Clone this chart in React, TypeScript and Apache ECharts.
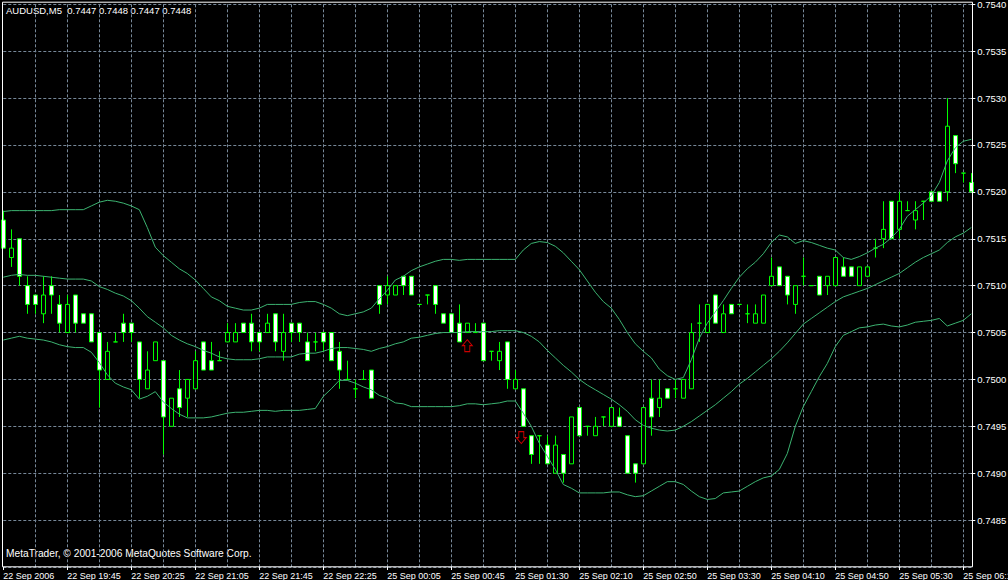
import React, { useEffect, useRef } from 'react';
import * as echarts from 'echarts';

// AUDUSD M5 bars: [open, high, low, close]
const candles: number[][] = [
  [0.7517, 0.7518, 0.7514, 0.7514], [0.7513, 0.7516, 0.7512, 0.7514], [0.7515, 0.7515, 0.7510, 0.7511], [0.7510, 0.7511, 0.7507, 0.7508],
  [0.7509, 0.7509, 0.7507, 0.7508], [0.7507, 0.7511, 0.7506, 0.7509], [0.7510, 0.7511, 0.7507, 0.7509], [0.7508, 0.7509, 0.7505, 0.7506],
  [0.7505, 0.7509, 0.7505, 0.7508], [0.7509, 0.7509, 0.7505, 0.7506], [0.7507, 0.7507, 0.7506, 0.7506], [0.7507, 0.7507, 0.7504, 0.7504],
  [0.7505, 0.7505, 0.7497, 0.7501], [0.7500, 0.7504, 0.7500, 0.7503], [0.7504, 0.7505, 0.7504, 0.7504], [0.7506, 0.7507, 0.7504, 0.7505],
  [0.7506, 0.7506, 0.7504, 0.7505], [0.7504, 0.7504, 0.7498, 0.7500], [0.7499, 0.7503, 0.7499, 0.7501], [0.7502, 0.7504, 0.7502, 0.7504],
  [0.7502, 0.7502, 0.7492, 0.7496], [0.7495, 0.7498, 0.7495, 0.7498], [0.7499, 0.7501, 0.7496, 0.7497], [0.7498, 0.7500, 0.7496, 0.7500],
  [0.7499, 0.7503, 0.7499, 0.7502], [0.7504, 0.7504, 0.7501, 0.7501], [0.7502, 0.7504, 0.7501, 0.7501], [0.7502, 0.7503, 0.7502, 0.7502],
  [0.7504, 0.7506, 0.7504, 0.7505], [0.7504, 0.7506, 0.7504, 0.7505], [0.7506, 0.7506, 0.7505, 0.7505], [0.7506, 0.7507, 0.7503, 0.7504],
  [0.7505, 0.7505, 0.7503, 0.7504], [0.7505, 0.7507, 0.7505, 0.7506], [0.7507, 0.7507, 0.7503, 0.7504], [0.7503, 0.7507, 0.7502, 0.7505],
  [0.7506, 0.7506, 0.7504, 0.7505], [0.7506, 0.7506, 0.7504, 0.7505], [0.7504, 0.7505, 0.7502, 0.7502], [0.7504, 0.7505, 0.7503, 0.7504],
  [0.7505, 0.7505, 0.7503, 0.7504], [0.7505, 0.7505, 0.7502, 0.7502], [0.7503, 0.7504, 0.7499, 0.7501], [0.7500, 0.7502, 0.7500, 0.7500],
  [0.7499, 0.7500, 0.7498, 0.7499], [0.7500, 0.7501, 0.7500, 0.7500], [0.7501, 0.7501, 0.7498, 0.7498], [0.7510, 0.7510, 0.7507, 0.7508],
  [0.7509, 0.7511, 0.7508, 0.7510], [0.7509, 0.7510, 0.7509, 0.7510], [0.7511, 0.7511, 0.7509, 0.7510], [0.7511, 0.7511, 0.7509, 0.7509],
  [0.7508, 0.7508, 0.7508, 0.7508], [0.7509, 0.7509, 0.7508, 0.7509], [0.7510, 0.7510, 0.7507, 0.7508], [0.7507, 0.7507, 0.7506, 0.7506],
  [0.7507, 0.7507, 0.7505, 0.7505], [0.7506, 0.7508, 0.7504, 0.7504], [0.7505, 0.7506, 0.7505, 0.7506], [0.7505, 0.7506, 0.7505, 0.7505],
  [0.7506, 0.7506, 0.7502, 0.7502], [0.7503, 0.7503, 0.7502, 0.7503], [0.7502, 0.7504, 0.7501, 0.7503], [0.7504, 0.7504, 0.7499, 0.7500],
  [0.7499, 0.7501, 0.7499, 0.7500], [0.7499, 0.7499, 0.7495, 0.7495], [0.7494, 0.7494, 0.7491, 0.7492], [0.7494, 0.7494, 0.7491, 0.7494],
  [0.7493, 0.7494, 0.7491, 0.7491], [0.7490, 0.7494, 0.7490, 0.7493], [0.7492, 0.7492, 0.7489, 0.7490], [0.7491, 0.7496, 0.7491, 0.7496],
  [0.7497, 0.7497, 0.7494, 0.7494], [0.7495, 0.7495, 0.7494, 0.7495], [0.7494, 0.7496, 0.7494, 0.7495], [0.7496, 0.7496, 0.7495, 0.7496],
  [0.7495, 0.7497, 0.7495, 0.7497], [0.7496, 0.7497, 0.7495, 0.7495], [0.7494, 0.7494, 0.7490, 0.7490], [0.7491, 0.7491, 0.7489, 0.7490],
  [0.7491, 0.7497, 0.7491, 0.7497], [0.7498, 0.7500, 0.7494, 0.7496], [0.7497, 0.7500, 0.7496, 0.7498], [0.7499, 0.7499, 0.7498, 0.7498],
  [0.7499, 0.7500, 0.7498, 0.7499], [0.7498, 0.7500, 0.7498, 0.7500], [0.7499, 0.7506, 0.7499, 0.7505], [0.7506, 0.7508, 0.7504, 0.7506],
  [0.7505, 0.7508, 0.7505, 0.7508], [0.7509, 0.7509, 0.7506, 0.7506], [0.7505, 0.7508, 0.7505, 0.7507], [0.7508, 0.7508, 0.7507, 0.7507],
  [0.7508, 0.7508, 0.7508, 0.7508], [0.7507, 0.7508, 0.7506, 0.7507], [0.7506, 0.7508, 0.7506, 0.7507], [0.7506, 0.7509, 0.7506, 0.7509],
  [0.7510, 0.7513, 0.7510, 0.7511], [0.7512, 0.7512, 0.7510, 0.7510], [0.7511, 0.7511, 0.7508, 0.7509], [0.7508, 0.7510, 0.7507, 0.7510],
  [0.7511, 0.7513, 0.7510, 0.7511], [0.7510, 0.7510, 0.7510, 0.7510], [0.7511, 0.7511, 0.7509, 0.7509], [0.7510, 0.7511, 0.7509, 0.7511],
  [0.7510, 0.7513, 0.7510, 0.7513], [0.7512, 0.7513, 0.7511, 0.7511], [0.7512, 0.7512, 0.7511, 0.7511], [0.7510, 0.7512, 0.7510, 0.7512],
  [0.7511, 0.7512, 0.7511, 0.7512], [0.7514, 0.7515, 0.7513, 0.7514], [0.7515, 0.7519, 0.7514, 0.7516], [0.7519, 0.7519, 0.7515, 0.7515],
  [0.7516, 0.7520, 0.7515, 0.7519], [0.7518, 0.7519, 0.7518, 0.7518], [0.7517, 0.7519, 0.7516, 0.7518], [0.7519, 0.7519, 0.7517, 0.7519],
  [0.7520, 0.7520, 0.7519, 0.7519], [0.7520, 0.7520, 0.7519, 0.7519], [0.7520, 0.7530, 0.7519, 0.7527], [0.7526, 0.7526, 0.7522, 0.7523],
  [0.7522, 0.7522, 0.7521, 0.7522], [0.7521, 0.7522, 0.7520, 0.7520],
];

// Bollinger bands, read per bar
const upperBand = [
  0.75179, 0.7518, 0.7518, 0.7518, 0.7518, 0.7518, 0.7518, 0.75181, 0.75181, 0.75181, 0.75181, 0.75185, 0.75189, 0.75191,
  0.7519, 0.75188, 0.75185, 0.75181, 0.75162, 0.75141, 0.75132, 0.75125, 0.75118, 0.75113, 0.75106, 0.75097, 0.75088, 0.75084,
  0.75078, 0.75076, 0.75074, 0.75074, 0.75076, 0.7508, 0.7508, 0.7508, 0.7508, 0.75082, 0.75083, 0.75083, 0.7508, 0.75076,
  0.7507, 0.75068, 0.7507, 0.75072, 0.75076, 0.75086, 0.75095, 0.75106, 0.7511, 0.75116, 0.7512, 0.75123, 0.75126, 0.75128,
  0.75128, 0.75127, 0.75128, 0.75128, 0.75128, 0.75128, 0.75128, 0.75128, 0.75128, 0.75138, 0.75145, 0.75147, 0.75146, 0.75142,
  0.75135, 0.75126, 0.75117, 0.75105, 0.75093, 0.75083, 0.75076, 0.75064, 0.7505, 0.75038, 0.7503, 0.75023, 0.75011, 0.75004,
  0.75, 0.75002, 0.75021, 0.75044, 0.7506, 0.75072, 0.75084, 0.75097, 0.75109, 0.75118, 0.75125, 0.75134, 0.75146, 0.75154,
  0.75152, 0.75145, 0.75148, 0.75146, 0.75143, 0.7514, 0.75138, 0.7513, 0.75128, 0.75131, 0.75135, 0.7514, 0.75144, 0.75151,
  0.7516, 0.75174, 0.75181, 0.75188, 0.75196, 0.7521, 0.75233, 0.75247, 0.75254, 0.75256,
];
const middleBand = [
  0.75109, 0.75111, 0.75112, 0.75111, 0.75111, 0.7511, 0.75109, 0.75108, 0.75107, 0.75107, 0.75107, 0.75105, 0.75099, 0.75096,
  0.75092, 0.75089, 0.75084, 0.75076, 0.75067, 0.75061, 0.75055, 0.75047, 0.75042, 0.75038, 0.75035, 0.75031, 0.75028, 0.75024,
  0.75022, 0.75021, 0.75021, 0.75021, 0.75022, 0.75024, 0.75024, 0.75024, 0.75024, 0.75027, 0.75028, 0.75028, 0.7503, 0.75033,
  0.75034, 0.75034, 0.75033, 0.75032, 0.7503, 0.75033, 0.75035, 0.75038, 0.7504, 0.75044, 0.75045, 0.75047, 0.75049, 0.7505,
  0.7505, 0.7505, 0.75051, 0.75051, 0.75051, 0.75051, 0.75052, 0.75052, 0.75052, 0.7505, 0.75046, 0.7504, 0.75031, 0.75023,
  0.75015, 0.75008, 0.75, 0.74994, 0.74989, 0.74984, 0.74979, 0.74973, 0.74966, 0.74957, 0.74951, 0.74948, 0.74946, 0.74945,
  0.74946, 0.7495, 0.74955, 0.74961, 0.74967, 0.74973, 0.7498, 0.74987, 0.74995, 0.75001, 0.75008, 0.75015, 0.75022, 0.7503,
  0.75039, 0.75049, 0.75059, 0.75065, 0.75071, 0.75077, 0.75083, 0.75088, 0.75091, 0.75094, 0.75097, 0.75101, 0.75105, 0.75109,
  0.75113, 0.75119, 0.75125, 0.7513, 0.75134, 0.75138, 0.75146, 0.75152, 0.75156, 0.75162,
];
const lowerBand = [
  0.75042, 0.75044, 0.75046, 0.75044, 0.75043, 0.75042, 0.7504, 0.75037, 0.75035, 0.75034, 0.75034, 0.75029, 0.75018, 0.75005,
  0.74996, 0.74992, 0.74989, 0.74979, 0.74982, 0.74987, 0.74976, 0.74969, 0.74963, 0.74959, 0.74959, 0.74959, 0.7496, 0.74962,
  0.74964, 0.74965, 0.74965, 0.74966, 0.74967, 0.74967, 0.74966, 0.74967, 0.74967, 0.74967, 0.74968, 0.74969, 0.74982, 0.7499,
  0.74999, 0.74999, 0.74996, 0.74992, 0.74989, 0.74983, 0.7498, 0.74975, 0.74974, 0.74971, 0.74971, 0.74971, 0.74971, 0.74971,
  0.74971, 0.74972, 0.74974, 0.74974, 0.74973, 0.74974, 0.74975, 0.74977, 0.74977, 0.74964, 0.7495, 0.74932, 0.74918, 0.74904,
  0.74888, 0.74884, 0.74879, 0.74879, 0.74879, 0.74879, 0.7488, 0.7488, 0.74877, 0.74875, 0.74876, 0.74881, 0.74886, 0.74891,
  0.74891, 0.74888, 0.74881, 0.74875, 0.74872, 0.74873, 0.74879, 0.7488, 0.74881, 0.74886, 0.74891, 0.74895, 0.74897, 0.74904,
  0.74921, 0.7495, 0.74971, 0.74987, 0.75003, 0.75017, 0.75035, 0.75047, 0.75051, 0.75055, 0.75056, 0.75058, 0.75059, 0.75057,
  0.75056, 0.75058, 0.75061, 0.75062, 0.75063, 0.75065, 0.75057, 0.7506, 0.75063, 0.7507,
];

// one label every 8 bars
const timeLabels = [
  '22 Sep 2006', '22 Sep 19:45', '22 Sep 20:25', '22 Sep 21:05', '22 Sep 21:45', '22 Sep 22:25', '25 Sep 00:05', '25 Sep 00:45',
  '25 Sep 01:30', '25 Sep 02:10', '25 Sep 02:50', '25 Sep 03:30', '25 Sep 04:10', '25 Sep 04:50', '25 Sep 05:30', '25 Sep 06:10',
];

// trade arrows: [bar index, price]
const buyArrows = [[58, 0.75036]];
const sellArrows = [[65, 0.74938]];

const FONT = '"Liberation Sans", Arial, sans-serif';

export default function App() {
  const chartRef = useRef<HTMLDivElement>(null);

  useEffect(() => {
    if (!chartRef.current) return;
    const chart = echarts.init(chartRef.current, null, { renderer: 'svg' });

    const categories = candles.map((_, i) => String(i));
    const bandStyle = { color: '#3cb371', width: 1 };

    chart.setOption({
      animation: false,
      backgroundColor: '#000',
      grid: { left: 3.3, right: 36.7, top: 4.3, bottom: 13, outerBoundsMode: 'none' },
      xAxis: {
        type: 'category',
        data: categories,
        boundaryGap: false,
        axisLine: { show: false },
        axisTick: {
          show: true,
          interval: 7,
          length: 3,
          lineStyle: { color: '#fff' },
        },
        axisLabel: {
          interval: 7,
          align: 'left',
          margin: 4,
          color: '#fff',
          fontSize: 9,
          fontFamily: FONT,
          formatter: (_: string, idx: number) => (idx % 8 === 0 ? timeLabels[idx / 8] ?? '' : ''),
        },
        splitLine: {
          show: true,
          interval: (idx: number) => idx > 0 && idx % 4 === 0,
          lineStyle: { color: '#778899', type: [3, 2], width: 1 },
        },
      },
      yAxis: {
        type: 'value',
        position: 'right',
        min: 0.748,
        max: 0.754,
        interval: 0.0005,
        scale: true,
        axisLine: { show: false },
        axisTick: { show: true, length: 4, lineStyle: { color: '#fff' } },
        axisLabel: {
          margin: 6,
          color: '#fff',
          fontSize: 9.5,
          fontFamily: FONT,
          showMinLabel: false,
          formatter: (v: number) => v.toFixed(4),
        },
        splitLine: {
          show: true,
          lineStyle: { color: '#778899', type: [3, 2], width: 1 },
        },
      },
      graphic: [
        {
          type: 'text',
          x: 6,
          y: 5,
          silent: true,
          style: {
            text: 'AUDUSD,M5  0.7447 0.7448 0.7447 0.7448',
            fill: '#fff',
            fontSize: 9.5,
            fontFamily: FONT,
            verticalAlign: 'top',
          },
        },
        {
          type: 'text',
          x: 6,
          y: 548.5,
          silent: true,
          style: {
            text: 'MetaTrader, © 2001-2006 MetaQuotes Software Corp.',
            fill: '#fff',
            fontSize: 10.2,
            fontFamily: FONT,
            verticalAlign: 'top',
          },
        },
        {
          type: 'rect',
          z: 100,
          silent: true,
          shape: { x: 2.5, y: 2.2, width: 970, height: 564.6 },
          style: { fill: 'none', stroke: '#fff', lineWidth: 1 },
        },
      ],
      series: [
        {
          type: 'candlestick',
          barWidth: 4,
          data: candles.map(([o, h, l, c]) => [o, c, l, h]),
          itemStyle: {
            color: '#000',
            color0: '#fff',
            borderColor: '#00ff00',
            borderColor0: '#00ff00',
            borderColorDoji: '#00ff00',
            borderWidth: 1,
          },
        },
        { type: 'line', data: upperBand, showSymbol: false, lineStyle: bandStyle },
        { type: 'line', data: middleBand, showSymbol: false, lineStyle: bandStyle },
        { type: 'line', data: lowerBand, showSymbol: false, lineStyle: bandStyle },
        {
          type: 'scatter',
          data: buyArrows,
          symbol: 'path://M5,0 L10,6 L7.5,6 L7.5,12 L2.5,12 L2.5,6 L0,6 Z',
          symbolSize: [10, 12],
          itemStyle: { color: 'rgba(0,0,0,0)', borderColor: '#ff0000', borderWidth: 1 },
        },
        {
          type: 'scatter',
          data: sellArrows,
          symbol: 'path://M2.5,0 L7.5,0 L7.5,6 L10,6 L5,12 L0,6 L2.5,6 Z',
          symbolSize: [10, 12],
          symbolOffset: [-2, 0],
          itemStyle: { color: 'rgba(0,0,0,0)', borderColor: '#ff0000', borderWidth: 1 },
        },
      ],
    });

    return () => {
      chart.dispose();
    };
  }, []);

  return (
    <div
      ref={chartRef}
      style={{ position: 'fixed', left: 0, top: 0, width: '1008px', height: '580px', background: '#000' }}
    />
  );
}
